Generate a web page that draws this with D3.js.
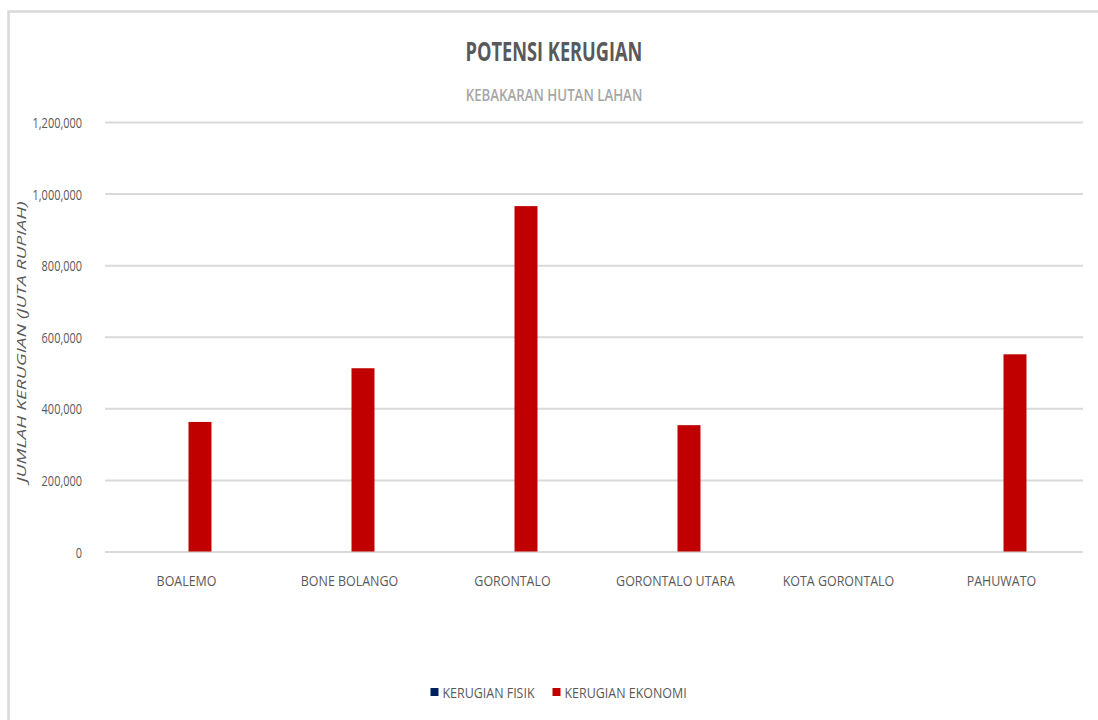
<!DOCTYPE html>
<html>
<head>
<meta charset="utf-8">
<script src="https://cdn.jsdelivr.net/npm/d3@7"></script>
<style>
  html, body { margin: 0; padding: 0; background: #ffffff; }
  svg { display: block; }
  text { font-family: "Open Sans", "Liberation Sans", sans-serif; }
</style>
</head>
<body>
<svg id="chart" width="1098" height="720"></svg>
<script>
// Kabupaten/kota
const categories = ["BOALEMO", "BONE BOLANGO", "GORONTALO", "GORONTALO UTARA", "KOTA GORONTALO", "PAHUWATO"];
// Kerugian per wilayah (juta rupiah)
const kerugianFisik   = [0, 0, 0, 0, 0, 0];
const kerugianEkonomi = [362000, 512000, 965000, 353000, 0, 551000];
const seriesNames  = ["KERUGIAN FISIK", "KERUGIAN EKONOMI"];
const seriesColors = ["#002060", "#C00000"];
const yTicks = [0, 200000, 400000, 600000, 800000, 1000000, 1200000];

const svg = d3.select("#chart");
const W = 1098, H = 720;
const plot = { left: 105, right: 1083, top: 122, bottom: 551.5 };

// outer frame
svg.append("rect")
  .attr("x", 8.5).attr("y", 11.5)
  .attr("width", W + 40).attr("height", H + 40)
  .attr("fill", "#fff").attr("stroke", "#d9d9d9").attr("stroke-width", 2.5);

const x0 = d3.scaleBand().domain(categories).range([plot.left, plot.right]).padding(0);
const y = d3.scaleLinear().domain([0, 1200000]).range([plot.bottom, plot.top]);
const barW = x0.bandwidth() * 0.141;
const x1 = d3.scaleBand().domain(seriesNames).range([-barW, barW]).padding(0);

// condensed lettering: horizontal squeeze applied per label
function txt(g, x, yy, s, opts) {
  const t = g.append("text")
    .attr("transform", `translate(${x},${yy}) scale(${opts.sx},1)`)
    .attr("text-anchor", opts.anchor || "middle")
    .attr("font-size", opts.size)
    .attr("font-weight", opts.weight || 400)
    .attr("fill", opts.color || "#595959")
    .text(s);
  return t;
}

// gridlines + value labels
const yAxis = d3.axisLeft(y).tickValues(yTicks).tickSize(-(plot.right - plot.left))
  .tickFormat(d3.format(","));
const ga = svg.append("g").attr("transform", `translate(${plot.left},0)`).call(yAxis);
ga.select(".domain").remove();
ga.selectAll(".tick line").attr("stroke", "#d9d9d9").attr("stroke-width", 2);
ga.selectAll(".tick text").remove();
ga.selectAll(".tick").each(function (d) {
  txt(d3.select(this), -23, 5.5, d3.format(",")(d), { size: 15, anchor: "end", sx: 0.73 });
});

// bars
const data = categories.map((c, i) => ({ cat: c, vals: [kerugianFisik[i], kerugianEkonomi[i]] }));
const groups = svg.append("g").selectAll("g").data(data).join("g")
  .attr("transform", d => `translate(${x0(d.cat) + x0.bandwidth() / 2 + 2},0)`);
groups.selectAll("rect")
  .data(d => d.vals.map((v, j) => ({ name: seriesNames[j], v, color: seriesColors[j] })))
  .join("rect")
  .attr("x", d => x1(d.name))
  .attr("width", x1.bandwidth())
  .attr("y", d => y(d.v))
  .attr("height", d => y(0) - y(d.v))
  .attr("fill", d => d.color);

// category labels
const xAxis = d3.axisBottom(x0).tickSize(0);
const gx = svg.append("g").attr("transform", `translate(0,${plot.bottom})`).call(xAxis);
gx.select(".domain").remove();
gx.selectAll(".tick text").remove();
gx.selectAll(".tick").each(function (d) {
  txt(d3.select(this), 0, 34, d, { size: 15, sx: 0.83 });
});

// titles
txt(svg, 554, 61, "POTENSI KERUGIAN", { size: 26, weight: 700, sx: 0.70 });
txt(svg, 554, 101, "KEBAKARAN HUTAN LAHAN", { size: 17, weight: 600, color: "#a6a6a6", sx: 0.78 });

// y-axis title
svg.append("text")
  .attr("transform", `translate(26,342) rotate(-90) scale(1.47,1)`)
  .attr("text-anchor", "middle")
  .attr("font-size", 13)
  .attr("font-style", "italic")
  .attr("fill", "#595959")
  .text("JUMLAH KERUGIAN (JUTA RUPIAH)");

// legend
const leg = svg.append("g");
const legX = [430.5, 552.5];
seriesNames.forEach((n, i) => {
  leg.append("rect").attr("x", legX[i]).attr("y", 688).attr("width", 8).attr("height", 8)
    .attr("fill", seriesColors[i]);
  txt(leg, legX[i] + 12, 697.5, n, { size: 15, anchor: "start", sx: 0.83 });
});
</script>
</body>
</html>
